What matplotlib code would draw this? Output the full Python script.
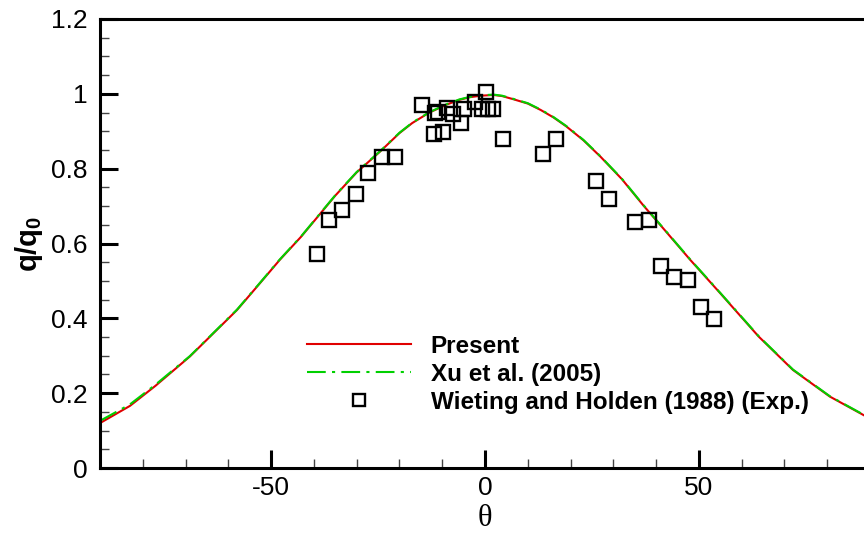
import numpy as np
import matplotlib.pyplot as plt
from matplotlib.ticker import MultipleLocator

plt.rcParams['font.family'] = ['Liberation Sans', 'DejaVu Sans']
plt.rcParams['axes.unicode_minus'] = False
plt.rcParams['mathtext.fontset'] = 'custom'
plt.rcParams['mathtext.bf'] = 'Liberation Sans:bold'

# Distribución de flujo de calor: cálculo presente
theta_pres = [-90, -83, -77, -69, -63.5, -58, -52.6, -48, -43, -35, -30, -24.5, -20, -17,
              -13, -9, -6, -3.5, -1, 2, 4, 6.5, 10, 13, 16, 19, 23, 27, 32, 37, 42, 48, 55,
              64, 72, 80.6, 90]
q_pres = [0.120, 0.166, 0.220, 0.298, 0.360, 0.422, 0.494, 0.556, 0.618, 0.728, 0.790, 0.846,
          0.895, 0.922, 0.950, 0.971, 0.984, 0.991, 0.995, 0.997, 0.994, 0.986, 0.974, 0.957,
          0.937, 0.913, 0.876, 0.832, 0.772, 0.702, 0.636, 0.556, 0.467, 0.351, 0.262, 0.191,
          0.132]

# Resultados de Xu et al. (2005)
theta_xu = [-90, -83, -77, -69, -63.5, -58, -52.6, -48, -43, -35, -30, -24.5, -20, -17,
            -13, -9, -6, -3.5, -1, 2, 4, 6.5, 10, 13, 16, 19, 23, 27, 32, 37, 42, 48, 55,
            64, 72, 80.6, 90]
q_xu = [0.126, 0.170, 0.223, 0.299, 0.361, 0.423, 0.495, 0.557, 0.619, 0.729, 0.791, 0.847,
        0.896, 0.923, 0.951, 0.972, 0.985, 0.992, 0.996, 0.998, 0.995, 0.987, 0.975, 0.958,
        0.938, 0.914, 0.877, 0.833, 0.773, 0.703, 0.637, 0.557, 0.468, 0.352, 0.263, 0.192,
        0.133]

# Experimentos de Wieting y Holden (1988)
theta_exp = [-39.3, -36.4, -33.4, -30.1, -27.3, -24.1, -21.0, -14.8, -11.9, -11.7, -11.0,
             -9.8, -8.9, -7.5, -5.6, -4.9, -2.3, -0.7, 0.2, 0.7, 1.9, 4.2, 13.6, 16.6,
             25.9, 29.0, 35.0, 38.3, 41.1, 44.2, 47.4, 50.5, 53.5]
q_exp = [0.572, 0.663, 0.690, 0.733, 0.789, 0.832, 0.832, 0.971, 0.893, 0.948, 0.952,
         0.898, 0.962, 0.947, 0.922, 0.960, 0.979, 0.960, 1.005, 0.960, 0.960, 0.880, 0.840,
         0.880, 0.767, 0.719, 0.658, 0.663, 0.540, 0.511, 0.503, 0.430, 0.398]

fig = plt.figure(figsize=(8.64, 5.35), dpi=100)
ax = fig.add_axes([100 / 864, 67 / 535, 770 / 864, 449 / 535])

ax.plot(theta_pres, q_pres, color='#e00000', lw=1.5, label='Present')
ax.plot(theta_xu, q_xu, color='#00d000', lw=1.5, ls=(0, (9, 3, 1.5, 3)),
        label='Xu et al. (2005)')
ax.plot(theta_exp, q_exp, ls='none', marker='s', ms=9.5, mfc='none', mec='black', mew=1.7,
        label='Wieting and Holden (1988) (Exp.)')

ax.set_xlim(-90, 90)
ax.set_ylim(0, 1.2)
ax.xaxis.set_major_locator(MultipleLocator(50))
ax.xaxis.set_minor_locator(MultipleLocator(10))
ax.yaxis.set_minor_locator(MultipleLocator(0.05))
ax.set_yticks([0, 0.2, 0.4, 0.6, 0.8, 1.0, 1.2])
ax.set_yticklabels(['0', '0.2', '0.4', '0.6', '0.8', '1', '1.2'])

for s in ax.spines.values():
    s.set_linewidth(2.2)
ax.tick_params(which='major', direction='in', length=13, width=2.2, labelsize=19)
ax.tick_params(axis='x', which='major', pad=6)
ax.tick_params(axis='y', which='major', pad=9)
ax.tick_params(which='minor', direction='in', length=6.5, width=1.0, color='#444444')

ax.set_xlabel('θ', fontsize=22, family='Liberation Serif', labelpad=3)
ax.set_ylabel(r'$\mathbf{q/q_0}$', fontsize=21, labelpad=4)

leg = ax.legend(loc='upper left', bbox_to_anchor=(0.256, 0.318), frameon=False,
                prop={'weight': 'bold', 'size': 17.5}, handlelength=4.3, handletextpad=0.8,
                labelspacing=0.2, borderaxespad=0, markerscale=0.95)

fig.savefig('out.png', dpi=100)
